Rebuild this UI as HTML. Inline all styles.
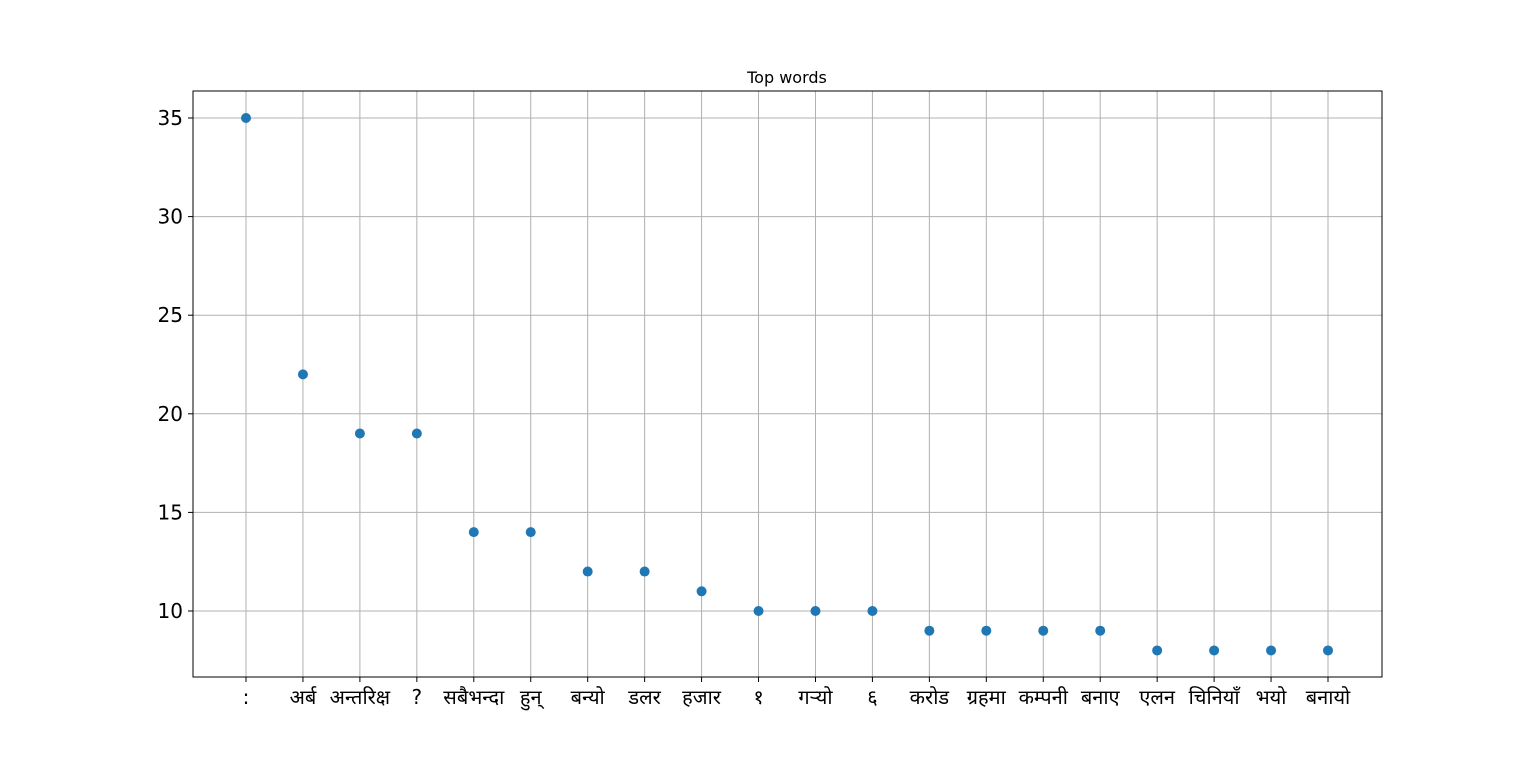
<!DOCTYPE html>
<html><head><meta charset="utf-8">
<style>
html,body{margin:0;padding:0;background:#fff;}
svg{display:block;font-family:"DejaVu Sans","Liberation Sans","Noto Sans CJK SC",sans-serif;}
</style></head>
<body>
<svg id="chart" width="1536" height="761" viewBox="0 0 1536 761">
<rect x="0" y="0" width="1536" height="761" fill="#fff"/>
<g id="grid"></g>
<g id="pts"></g>
<rect x="193" y="91" width="1189" height="586" fill="none" stroke="#000" stroke-width="1"/>
<g id="xt"></g>
<g id="yt"></g>
<text x="787" y="83" text-anchor="middle" font-size="16" fill="#000">Top words</text>
</svg>
<script>
const categories = [":", "अर्ब", "अन्तरिक्ष", "?", "सबैभन्दा", "हुन्", "बन्यो", "डलर", "हजार", "१", "गर्‍यो", "६", "करोड", "ग्रहमा", "कम्पनी", "बनाए", "एलन", "चिनियाँ", "भयो", "बनायो"];
const counts = [35, 22, 19, 19, 14, 14, 12, 12, 11, 10, 10, 10, 9, 9, 9, 9, 8, 8, 8, 8];
const yTicks = [10, 15, 20, 25, 30, 35];

const NS = "http://www.w3.org/2000/svg";
function xPos(i){ return 246 + i * (1328 - 246) / (categories.length - 1); }
function yPos(v){ return 611 - (v - 10) * (611 - 118) / 25; }
function mk(tag, attrs, parent){
  const e = document.createElementNS(NS, tag);
  for (const k in attrs) e.setAttribute(k, attrs[k]);
  parent.appendChild(e);
  return e;
}
const grid = document.getElementById('grid');
const pts = document.getElementById('pts');
const xt = document.getElementById('xt');
const yt = document.getElementById('yt');

categories.forEach((c, i) => {
  const x = xPos(i);
  const gl = mk('line', {x1:x, x2:x, y1:91, y2:677, stroke:'#b0b0b0', 'stroke-width':1}, grid);
  
  
  const tk = mk('line', {x1:x, x2:x, y1:677, y2:682, stroke:'#000', 'stroke-width':1}, xt);
  
  
  const t = mk('text', {x:x, y:704, 'text-anchor':'middle', 'font-size':20, fill:'#000'}, xt);
  t.textContent = c;
  
  
});
yTicks.forEach(v => {
  const y = yPos(v);
  const gl = mk('line', {x1:193, x2:1382, y1:y, y2:y, stroke:'#b0b0b0', 'stroke-width':1}, grid);
  
  
  const tk = mk('line', {x1:188, x2:193, y1:y, y2:y, stroke:'#000', 'stroke-width':1}, yt);
  
  
  const t = mk('text', {x:183, y:y + 7, 'text-anchor':'end', 'font-size':20, fill:'#000'}, yt);
  t.textContent = v;
  
  
});
counts.forEach((v, i) => {
  const p = mk('circle', {cx:xPos(i), cy:yPos(v), r:5, fill:'#1f77b4'}, pts);
  
  
});
</script>
</body></html>
